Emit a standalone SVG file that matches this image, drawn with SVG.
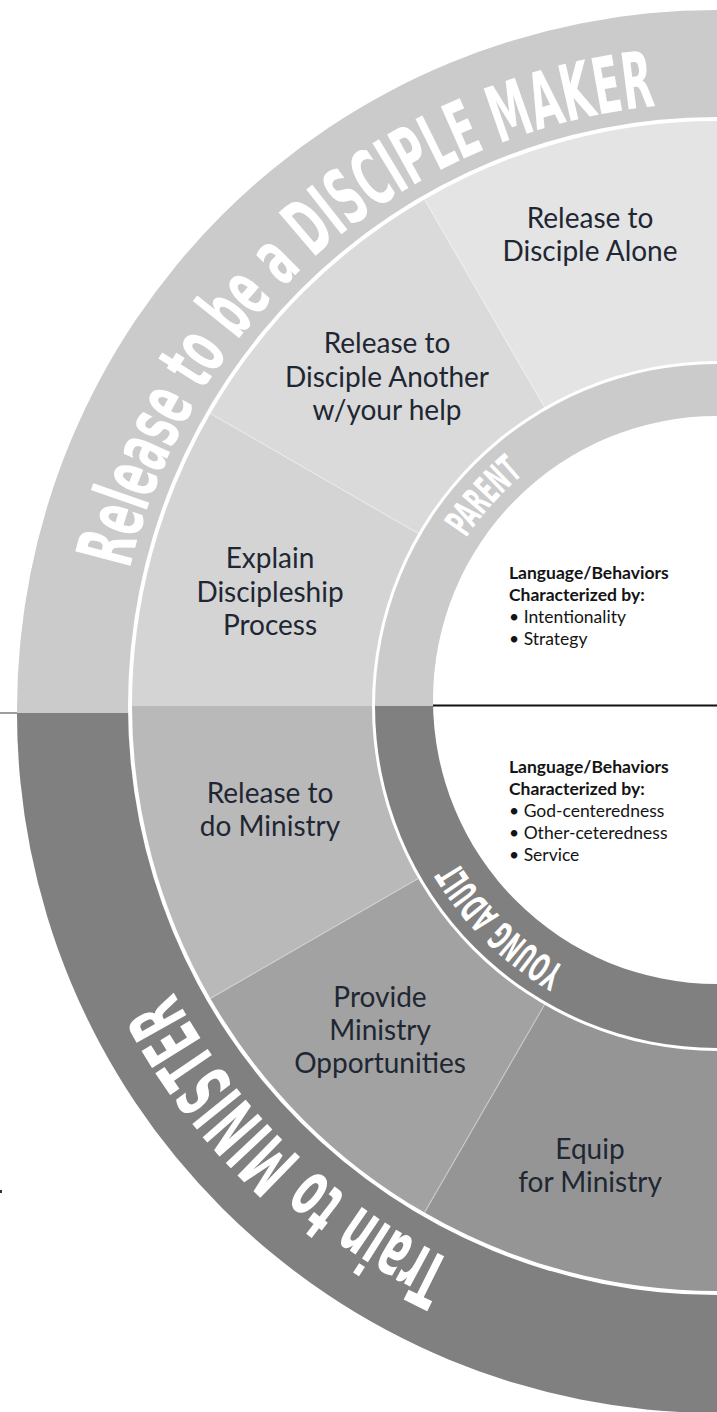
<svg xmlns="http://www.w3.org/2000/svg" width="717" height="1412" viewBox="0 0 717 1412">
<style>
.seg{font-family:Lato,"Open Sans","Liberation Sans",sans-serif;font-size:28px;fill:#1e2733;text-anchor:middle}
.inner{font-family:Lato,"Open Sans","Liberation Sans",sans-serif;font-size:17.5px;fill:#141414}
.b{font-weight:700}
.arc{font-family:"Liberation Sans Narrow","DejaVu Sans Condensed","Roboto",sans-serif;font-weight:700;fill:#ffffff}
.big{font-size:78px}
.ring{font-size:39px}
.div{stroke:#ffffff;stroke-opacity:0.35;stroke-width:1.2;fill:none}
</style>
<defs>
<path id="topPath" d="M114 706 A603 603 0 0 1 717 103"/>
<path id="botPath" d="M717 1320 A614 614 0 0 1 103 706"/>
<path id="parentPath" d="M415 706 A302 302 0 0 1 717 404"/>
<path id="yaPath" d="M717 1008 A302 302 0 0 1 415 706"/>
</defs>
<rect width="717" height="1412" fill="#ffffff"/>
<line x1="0" y1="713" x2="18" y2="713" stroke="#868686" stroke-width="1.6"/>
<rect x="0" y="1190" width="2" height="3" fill="#333333"/>
<g id="band-disciple-maker">
<path d="M17 713 L17 710 A700 700 0 0 1 717 10 L717 713 Z" fill="#cbcbcb"/>
<text class="arc big"><textPath href="#topPath" startOffset="138" textLength="748" lengthAdjust="spacingAndGlyphs">Release to be a DISCIPLE MAKER</textPath></text>
</g>
<g id="band-minister">
<path d="M17 713 A700 700 0 0 0 717 1413 L717 713 Z" fill="#808080"/>
<text class="arc big"><textPath href="#botPath" startOffset="273" textLength="394" lengthAdjust="spacingAndGlyphs">Train to MINISTER</textPath></text>
</g>
<circle cx="717" cy="706" r="589" fill="#ffffff"/>
<g id="seg-alone">
<path d="M717 706 L424.5 199.4 A585 585 0 0 1 717 121 Z" fill="#e4e4e4"/>
<text class="seg"><tspan x="590" y="228">Release to</tspan><tspan x="590" y="261">Disciple Alone</tspan></text>
</g>
<g id="seg-another">
<path d="M717 706 L210.4 413.5 A585 585 0 0 1 424.5 199.4 Z" fill="#dadada"/>
<text class="seg"><tspan x="387" y="353">Release to</tspan><tspan x="387" y="387">Disciple Another</tspan><tspan x="387" y="420">w/your help</tspan></text>
</g>
<g id="seg-explain">
<path d="M717 706 L132 706 A585 585 0 0 1 210.4 413.5 Z" fill="#d4d4d4"/>
<text class="seg"><tspan x="270" y="568">Explain</tspan><tspan x="270" y="602">Discipleship</tspan><tspan x="270" y="635">Process</tspan></text>
</g>
<g id="seg-release-ministry">
<path d="M717 706 L210.4 998.5 A585 585 0 0 1 132 706 Z" fill="#b9b9b9"/>
<text class="seg"><tspan x="270" y="803">Release to</tspan><tspan x="270" y="836">do Ministry</tspan></text>
</g>
<g id="seg-provide">
<path d="M717 706 L424.5 1212.6 A585 585 0 0 1 210.4 998.5 Z" fill="#a2a2a2"/>
<text class="seg"><tspan x="380" y="1007">Provide</tspan><tspan x="380" y="1040">Ministry</tspan><tspan x="380" y="1073">Opportunities</tspan></text>
</g>
<g id="seg-equip">
<path d="M717 706 L717 1291 A585 585 0 0 1 424.5 1212.6 Z" fill="#959595"/>
<text class="seg"><tspan x="590" y="1159">Equip</tspan><tspan x="590" y="1192">for Ministry</tspan></text>
</g>
<g id="connectors">
<path class="div" d="M424.5 199.4 L544.5 407.2"/>
<path class="div" d="M210.4 413.5 L418.3 533.5"/>
<path class="div" d="M210.4 998.5 L418.3 878.5"/>
<path class="div" d="M424.5 1212.6 L544.5 1004.8"/>
</g>
<circle cx="717" cy="706" r="345" fill="#ffffff"/>
<g id="ring-parent">
<path d="M375 706 A342 342 0 0 1 717 364 L717 706 Z" fill="#cbcbcb"/>
<text class="arc ring"><textPath href="#parentPath" startOffset="178" textLength="86" lengthAdjust="spacingAndGlyphs">PARENT</textPath></text>
</g>
<g id="ring-young-adult">
<path d="M717 706 L717 1048 A342 342 0 0 1 375 706 Z" fill="#808080"/>
<text class="arc ring"><textPath href="#yaPath" startOffset="159" textLength="152" lengthAdjust="spacingAndGlyphs">YOUNG ADULT</textPath></text>
</g>
<circle cx="717" cy="700" r="284" fill="#ffffff"/>
<line x1="433" y1="705.5" x2="717" y2="705.5" stroke="#111111" stroke-width="2"/>
<g id="parent-behaviors">
<text class="inner"><tspan class="b" x="509" y="579">Language/Behaviors</tspan><tspan class="b" x="509" y="601">Characterized by:</tspan><tspan x="509" y="623">• Intentionality</tspan><tspan x="509" y="645">• Strategy</tspan></text>
</g>
<g id="young-adult-behaviors">
<text class="inner"><tspan class="b" x="509" y="773">Language/Behaviors</tspan><tspan class="b" x="509" y="795">Characterized by:</tspan><tspan x="509" y="817">• God-centeredness</tspan><tspan x="509" y="839">• Other-ceteredness</tspan><tspan x="509" y="861">• Service</tspan></text>
</g>
</svg>
